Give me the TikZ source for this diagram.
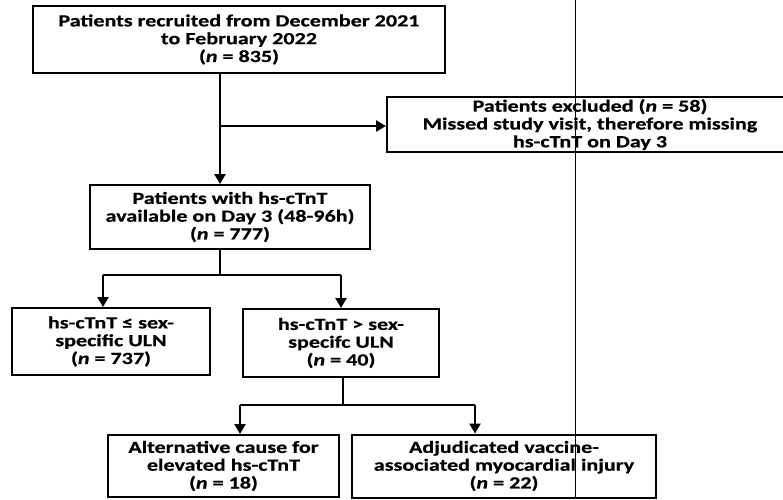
\documentclass[tikz,border=0pt]{standalone}
\usepackage{fontspec}
\setmainfont{Carlito}
\newfontfamily\boxfont[FakeStretch=1.3,FakeBold=0.6]{Carlito}
\usetikzlibrary{arrows.meta}
\tikzset{
  flowbox/.style={draw, line width=2pt, align=center, inner sep=2pt,
    font=\boxfont\fontsize{17}{17.8}\selectfont\bfseries},
  flowarrow/.style={line width=2.6pt, -{Triangle[length=10pt,width=11pt]}},
  flowline/.style={line width=2.6pt}
}
\begin{document}
\begin{tikzpicture}[x=1pt,y=-1pt]
      \useasboundingbox (0,0) rectangle (783,499);
      \clip (0,0) rectangle (783,499);
      % stray rule of the page
      \draw[line width=0.6pt] (575,0) -- (575,499);
      \draw
        (239,39.5) node[flowbox, minimum width=412pt, minimum height=67pt] (recruited)
          {Patients recruited from December 2021\\to February 2022\\(\textit{n} = 835)}
        (590,124.5) node[flowbox, minimum width=406pt, minimum height=55pt] (excluded)
          {Patients excluded (\textit{n} = 58)\\Missed study visit, therefore missing\\hs-cTnT on Day 3}
        (230,217) node[flowbox, minimum width=280pt, minimum height=64pt] (available)
          {Patients with hs-cTnT\\available on Day 3 (48-96h)\\(\textit{n} = 777)}
        (111,341.5) node[flowbox, minimum width=198pt, minimum height=67pt] (normal)
          {hs-cTnT ≤ sex-\\specific ULN\\(\textit{n} = 737)}
        (341,343) node[flowbox, minimum width=196pt, minimum height=68pt] (elevated)
          {hs-cTnT > sex-\\specifc ULN\\(\textit{n} = 40)}
        (223.5,466) node[flowbox, minimum width=231pt, minimum height=62pt] (alternative)
          {Alternative cause for\\elevated hs-cTnT\\(\textit{n} = 18)}
        (504,466) node[flowbox, minimum width=304pt, minimum height=63pt] (myocardial)
          {Adjudicated vaccine-\\associated myocardial injury\\(\textit{n} = 22)};
      \coordinate (split0) at (220,126);
      \coordinate (split1) at (220,275);
      \coordinate (left1) at (103,275);
      \coordinate (right1) at (341,275);
      \coordinate (split2) at (343,405);
      \coordinate (left2) at (240,405);
      \coordinate (right2) at (475,405);
      \begin{scope}
        \draw[flowarrow] (recruited.south -| split0) -- (available.north -| split0);
        \draw[flowarrow] (split0) -- (excluded.west |- split0);
        \draw[flowline] (available.south -| split1) -- (split1);
        \draw[flowline] (left1) -- (right1);
        \draw[flowarrow] (left1) -- (normal.north -| left1);
        \draw[flowarrow] (right1) -- (elevated.north -| right1);
        \draw[flowline] (elevated.south -| split2) -- (split2);
        \draw[flowline] (left2) -- (right2);
        \draw[flowarrow] (left2) -- (alternative.north -| left2);
        \draw[flowarrow] (right2) -- (myocardial.north -| right2);
      \end{scope}
    \end{tikzpicture}
\end{document}
